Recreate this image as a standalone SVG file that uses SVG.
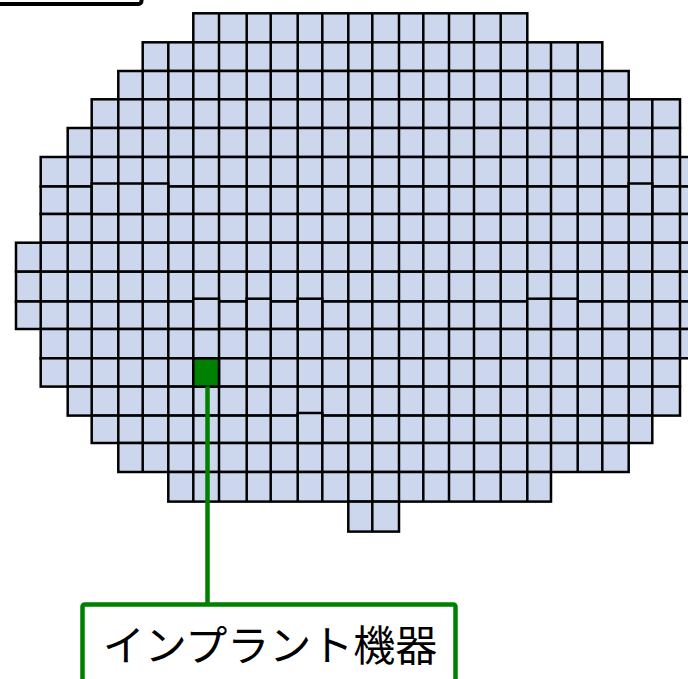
<svg xmlns="http://www.w3.org/2000/svg" width="688" height="679" viewBox="0 0 688 679">
<style>
.row{fill:#ccd6ec;stroke:#000;stroke-width:2.5}
.vl{fill:none;stroke:#000;stroke-width:2.5}
.green{fill:#008000;stroke:#000;stroke-width:2.5}
.conn{fill:none;stroke:#008000;stroke-width:4.5}
.lbl{font-family:"Noto Sans CJK JP","Noto Sans",sans-serif;font-size:42px;fill:#000}
</style>
<rect width="688" height="679" fill="#fff"/>
<g id="legend-box">
<rect x="-10" y="-40" width="151.5" height="44" rx="3" fill="#fff" stroke="#000" stroke-width="4"/>
</g>
<g id="wafer">
<rect class="row" x="193.3" y="13.3" width="334" height="29"/>
<rect class="row" x="142.7" y="42.3" width="459.6" height="28.7"/>
<rect class="row" x="118.3" y="71" width="510.4" height="28.3"/>
<rect class="row" x="91.7" y="99.3" width="588.3" height="28.7"/>
<rect class="row" x="67.7" y="128" width="612.3" height="29"/>
<rect class="row" x="40.7" y="157" width="665.3" height="29.5"/>
<rect class="row" x="40.7" y="186.5" width="665.3" height="27.5"/>
<rect class="row" x="40.7" y="214" width="665.3" height="28.7"/>
<rect class="row" x="16" y="242.7" width="690" height="29"/>
<rect class="row" x="16" y="271.7" width="690" height="29.8"/>
<rect class="row" x="16" y="301.5" width="690" height="27.5"/>
<rect class="row" x="40.7" y="329" width="665.3" height="29.3"/>
<rect class="row" x="40.7" y="358.3" width="639.3" height="28.3"/>
<rect class="row" x="67.7" y="386.6" width="612.3" height="29"/>
<rect class="row" x="91.7" y="415.6" width="560.6" height="27.4"/>
<rect class="row" x="118.3" y="443" width="510.4" height="29"/>
<rect class="row" x="168.3" y="472" width="382.7" height="29.6"/>
<rect class="row" x="348.3" y="501.6" width="50.7" height="30"/>
<path class="vl" d="M40.7 242.7V329M67.7 157V386.6M91.7 128V415.6M118.3 99.3V443M142.7 71V472M168.3 42.3V472M193.3 42.3V501.6M219 13.3V501.6M246.7 13.3V501.6M270.7 13.3V501.6M297.7 13.3V501.6M322.3 13.3V501.6M348.3 13.3V501.6M372.3 13.3V531.6M399 13.3V501.6M423.3 13.3V501.6M449 13.3V501.6M474 13.3V501.6M500.7 13.3V501.6M527.3 42.3V501.6M551 42.3V472M577.7 42.3V472M602.3 71V472M628.7 99.3V443M652.3 99.3V415.6M680 157V358.3"/>
<rect class="row" x="91.7" y="183.5" width="26.6" height="30.5"/>
<rect class="row" x="118.3" y="183.5" width="24.4" height="30.5"/>
<rect class="row" x="142.7" y="183.5" width="25.6" height="30.5"/>
<rect class="row" x="628.7" y="183.5" width="23.6" height="30.5"/>
<rect class="row" x="193.3" y="298.7" width="25.7" height="30.3"/>
<rect class="row" x="246.7" y="298.7" width="24" height="30.3"/>
<rect class="row" x="297.7" y="298.7" width="24.6" height="30.3"/>
<rect class="row" x="527.3" y="298.7" width="23.7" height="30.3"/>
<rect class="row" x="551" y="298.7" width="26.7" height="30.3"/>
<rect class="row" x="297.7" y="413" width="24.6" height="30"/>
</g>
<g id="implant-cell">
<rect class="green" x="193.3" y="358.3" width="25.7" height="28.3"/>
</g>
<g id="connectors">
<path class="conn" d="M207.5 386.6V604.5"/>
</g>
<g id="implant-label">
<rect x="82.5" y="604.5" width="373" height="100" rx="2" fill="#fff" stroke="#008000" stroke-width="4.5"/>
<text class="lbl" x="270" y="661" text-anchor="middle">インプラント機器</text>
</g>
</svg>
